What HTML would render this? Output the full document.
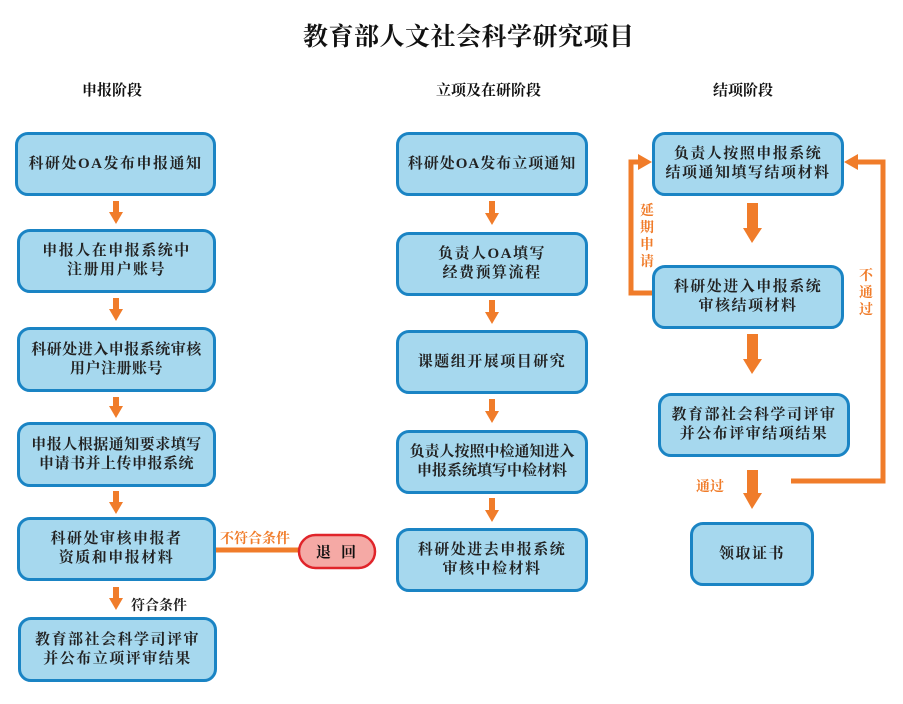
<!DOCTYPE html>
<html><head><meta charset="utf-8"><style>
body{margin:0;width:903px;height:704px;background:#fff;position:relative;overflow:hidden;font-family:"Liberation Serif","Noto Serif CJK SC",serif;}
.b{position:absolute;box-sizing:border-box;background:#a6d8ee;border:3px solid #1a84c4;border-radius:13px;display:flex;align-items:center;justify-content:center;text-align:center;font-weight:bold;font-size:15px;line-height:19px;color:#222;letter-spacing:1.5px}
.t{position:absolute;font-weight:bold;color:#111;white-space:nowrap}
.o{position:absolute;color:#f07c2a;font-weight:bold;font-size:14px;line-height:17px}
</style></head><body>
<div class="t" style="left:303px;top:17px;font-size:25px;letter-spacing:0.5px">教育部人文社会科学研究项目</div>
<div class="t" style="left:82px;top:79px;font-size:15px">申报阶段</div>
<div class="t" style="left:436px;top:79px;font-size:15px">立项及在研阶段</div>
<div class="t" style="left:713px;top:79px;font-size:15px">结项阶段</div>

<div class="b" style="left:15px;top:132px;width:201px;height:64px">科研处OA发布申报通知</div>
<div class="b" style="left:17px;top:229px;width:199px;height:64px">申报人在申报系统中<br>注册用户账号</div>
<div class="b" style="left:17px;top:327px;width:199px;height:65px;letter-spacing:0.5px">科研处进入申报系统审核<br>用户注册账号</div>
<div class="b" style="left:17px;top:422px;width:199px;height:65px;letter-spacing:0.5px">申报人根据通知要求填写<br>申请书并上传申报系统</div>
<div class="b" style="left:17px;top:517px;width:199px;height:64px">科研处审核申报者<br>资质和申报材料</div>
<div class="b" style="left:18px;top:617px;width:199px;height:65px">教育部社会科学司评审<br>并公布立项评审结果</div>

<div class="b" style="left:396px;top:132px;width:192px;height:64px;letter-spacing:1px">科研处OA发布立项通知</div>
<div class="b" style="left:396px;top:232px;width:192px;height:64px">负责人OA填写<br>经费预算流程</div>
<div class="b" style="left:396px;top:330px;width:192px;height:64px">课题组开展项目研究</div>
<div class="b" style="left:396px;top:430px;width:192px;height:64px;letter-spacing:0">负责人按照中检通知进入<br>申报系统填写中检材料</div>
<div class="b" style="left:396px;top:528px;width:192px;height:64px">科研处进去申报系统<br>审核中检材料</div>

<div class="b" style="left:652px;top:132px;width:192px;height:64px">负责人按照申报系统<br>结项通知填写结项材料</div>
<div class="b" style="left:652px;top:265px;width:192px;height:64px">科研处进入申报系统<br>审核结项材料</div>
<div class="b" style="left:658px;top:393px;width:192px;height:64px">教育部社会科学司评审<br>并公布评审结项结果</div>
<div class="b" style="left:690px;top:522px;width:124px;height:64px">领取证书</div>

<svg style="position:absolute;left:0;top:0" width="903" height="704">
<g fill="#f07c2a">
<rect x="113" y="201" width="6" height="12"/><polygon points="109,212 123,212 116,224"/>
<rect x="113" y="298" width="6" height="12"/><polygon points="109,309 123,309 116,321"/>
<rect x="113" y="397" width="6" height="10"/><polygon points="109,406 123,406 116,418"/>
<rect x="113" y="491" width="6" height="12"/><polygon points="109,502 123,502 116,514"/>
<rect x="113" y="587" width="6" height="12"/><polygon points="109,598 123,598 116,610"/>
<rect x="489" y="201" width="6" height="13"/><polygon points="485,213 499,213 492,225"/>
<rect x="489" y="300" width="6" height="13"/><polygon points="485,312 499,312 492,324"/>
<rect x="489" y="399" width="6" height="13"/><polygon points="485,411 499,411 492,423"/>
<rect x="489" y="498" width="6" height="13"/><polygon points="485,510 499,510 492,522"/>
<rect x="747" y="203" width="11" height="26"/><polygon points="743,228 762,228 752,243"/>
<rect x="747" y="334" width="11" height="26"/><polygon points="743,359 762,359 752,374"/>
<rect x="747" y="470" width="11" height="24"/><polygon points="743,493 762,493 752,509"/>
<polygon points="652,162 638,154 638,170"/>
<polygon points="844,162 858,154 858,170"/>
</g>
<g fill="none" stroke="#f07c2a" stroke-width="5">
<line x1="216" y1="550" x2="300" y2="550"/>
<polyline points="652,293 631,293 631,162 640,162"/>
<polyline points="791,481 883,481 883,162 856,162"/>
</g>
<rect x="299" y="535" width="76" height="33" rx="16.5" fill="#f5a9a5" stroke="#e0242a" stroke-width="2.5"/>
</svg>
<div class="t" style="left:316px;top:541px;font-size:15px;letter-spacing:10px">退回</div>
<div class="o" style="left:220px;top:531px">不符合条件</div>
<div class="t" style="left:131px;top:595px;font-size:14px;color:#222">符合条件</div>
<div class="o" style="left:640px;top:203px;width:16px">延<br>期<br>申<br>请</div>
<div class="o" style="left:859px;top:268px;width:16px">不<br>通<br>过</div>
<div class="o" style="left:696px;top:479px">通过</div>
</body></html>
